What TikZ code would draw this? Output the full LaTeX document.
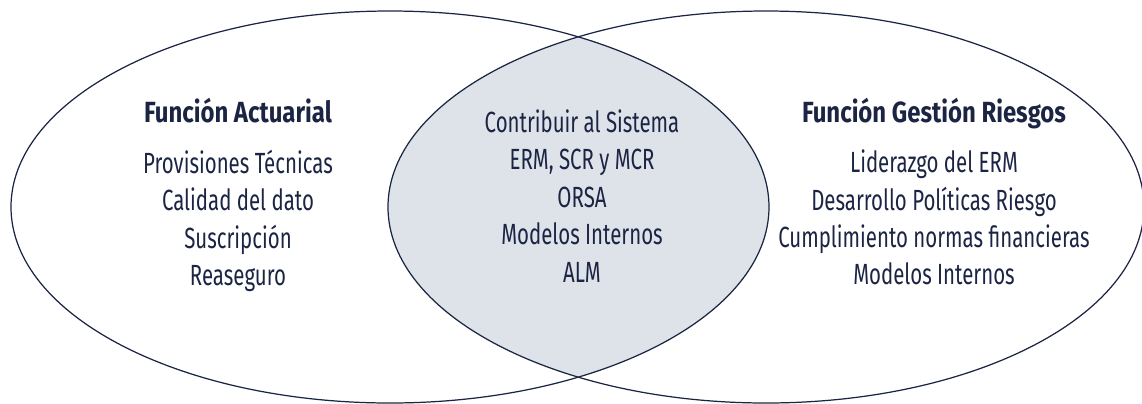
\documentclass[tikz,border=0pt]{standalone}
\usepackage{fontspec}
\setmainfont[FakeStretch=0.70]{Fira Sans}
\newfontfamily\titlefont[FakeStretch=0.82]{Fira Sans}
\usetikzlibrary{positioning}
\definecolor{navy}{HTML}{1B2443}
\definecolor{overlap}{HTML}{DDE3E8}

\begin{document}
\begin{tikzpicture}[
        every node/.style={text=navy, font=\fontsize{8.3}{10.65}\selectfont, align=center, inner sep=0pt},
        settitle/.style={font=\fontsize{8.3}{10.65}\selectfont\titlefont\bfseries},
        setline/.style={draw=navy, line width=0.35pt},
        node distance=0.3cm
    ]
    \useasboundingbox (0,0) rectangle (11.42,4.03);

    % Overlap of both functions
    \begin{scope}
        \clip (3.90,1.96) ellipse (3.79 and 1.96);
        \fill[overlap] (7.66,1.96) ellipse (3.78 and 1.96);
    \end{scope}

    % Ellipses
    \draw[setline] (3.90,1.96) ellipse (3.79 and 1.96);
    \draw[setline] (7.66,1.96) ellipse (3.78 and 1.96);

    % Left: actuarial function
    \node[settitle, anchor=base] (actuarial) at (2.38,2.81) {Función Actuarial};
    \node[below=0.26 of actuarial] (actuarialList) {Provisiones Técnicas\\ Calidad del dato\\ Suscripción\\ Reaseguro};

    % Middle: shared tasks
    \node[anchor=north] (shared) at (5.82,2.94) {Contribuir al Sistema\\ ERM, SCR y MCR\\ ORSA\\ Modelos Internos\\ ALM};

    % Right: risk management function
    \node[settitle, anchor=base] (riesgos) at (9.34,2.81) {Función Gestión Riesgos};
    \node[below=0.20 of riesgos] (riesgosList) {Liderazgo del ERM\\ Desarrollo Políticas Riesgo\\ Cumplimiento normas financieras\\ Modelos Internos};

\end{tikzpicture}
\end{document}
